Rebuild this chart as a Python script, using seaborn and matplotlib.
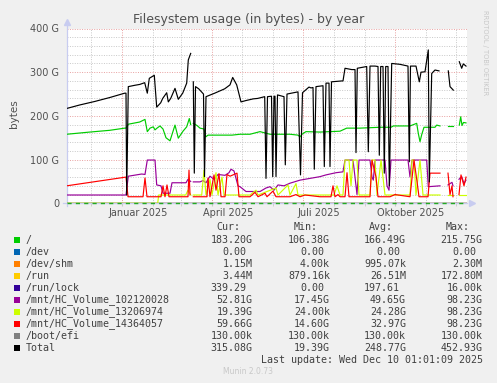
import numpy as np
import pandas as pd
import matplotlib
matplotlib.use("Agg")
import matplotlib.pyplot as plt
import seaborn as sns
from matplotlib.ticker import FixedLocator, NullFormatter
from matplotlib.patches import Rectangle

nan = np.nan

# ---------------- data (x = days relative to 1 Jan 2025, y = GB) ----------------
root_day = [-55, -32, -12, 3, 4.3, 6.6, 18, 23.3, 25.6, 28.3, 31.6, 33.3, 35.3, 38.3, 41.3, 44.3,
            48.3, 53.3, 56.6, 61.3, 65, 67.6, 69, 70, 71.6, 75.3, 78.3, 82.3, 84, 86.3, 98.3, 110.3,
            118.3, 128.3, 138.3, 148.3, 168.3, 176.3, 178.3, 180.3, 184.3, 198.3, 218.3, 225, 238.3,
            258.3, 269.3, 271.6, 288.3, 295, 296.6, 298.3, 300, 302.3, 313.3, 315, 318.3, 322,
            326.6, 331.6, 335, 337.6, 339, 340.3, 341.8, 344.3]
root_val = [158, 163, 167, 172, 172, 181, 186, 192, 164, 172, 175, 168, 172, 177, 170, 150,
            143, 179, 149, 165, 175, 194, 180, nan, 183, 178, 172, 170, 152, 156, 156, 156,
            158, 158, 164, 158, 158, 156, 152, 158, 164, 163, 165, 172, 172,
            174, 174, 177, 177, 183, 160, 141, 157, 174, 174, 179, 177, nan,
            177, 177, nan, 179, 198, 178, 185, 184]

total_day = [-55, -42, -27, -12, 3, 4.3, 5, 6.6, 13, 18, 23, 25.6, 27.6, 32.6, 35, 39, 41, 45, 46.6,
             49, 53.3, 56.6, 61, 65, 66.6, 69, 70, 71.6, 72.6, 73.8, 77, 81.8, 82.8, 84.3, 93, 103,
             108.3, 111, 115, 119.3, 124, 131.6, 136, 143, 144.3, 145.8, 149.8, 151, 152.3, 153.3,
             154.3, 155.8, 162.3, 163.6, 165.3, 176.3, 178.8, 180.8, 184.3, 187.3, 189.3, 191.3,
             192.6, 194.3, 201.3, 202.6, 204.3, 207.3, 208.3, 209.8, 220, 221.3, 223.3, 230, 233.3,
             234.3, 235.6, 245, 246.6, 248.3, 253.3, 256.3, 257.6, 259, 261.3, 262.6, 264, 266.3,
             267.6, 270, 278.3, 286.3, 287.6, 288.8, 294.3, 297.6, 299.3, 303.3, 306.6, 307.6, 310,
             313.3, 317.3, 318, 326.6, 328.3, 331.6, 332, 337.6, 340, 341.6, 344.3]
total_val = [217, 225, 233, 242, 252, 252, 19, 267, 270, 272, 276, 252, 286, 293, 220, 230, 240, 253, 232,
             240, 263, 238, 252, 275, 328, 343, nan, 278, 69, 267, 262, 250, 61, 244, 252, 262,
             271, 288, 271, 232, 235, 239, 240, 244, 57, 244, 245, 61, 245, 245,
             61, 248, 244, 88, 250, 255, 65, 253, 260, 266, 264, 265,
             78, 267, 269, 84, 275, 275, 84, 278, 280, 280, 309, 306, 306,
             116, 309, 313, 118, 314, 314, 313, 110, 313, 313, 69, 313, 313,
             40, 320, 318, 314, 95, 314, 314, 278, 300, 301, 351, 49, 297,
             305, 303, nan, 303, 267, 259, nan, 324, 309, 319, 314]

vol1_day = [-55, 4.3, 6.6, 20, 23.3, 25.6, 33.3, 35, 39.3, 41.3, 48.3, 50.3, 64.3, 66.3, 69, 70, 71.6,
            78.3, 81.3, 84.3, 88.3, 92.3, 96.3, 103.3, 107.3, 109.3, 112.3, 116.3, 118.3, 124.3, 138.3,
            144.3, 148.3, 152.3, 156.3, 162.3, 168.3, 178.3, 188.3, 198.3, 204.3, 214.3, 221.3, 223.3,
            231.3, 233.3, 235.3, 237.3, 248.3, 250.3, 251.6, 253.3, 263.3, 265.3, 267.3, 269.3, 286.3,
            288.3, 290.3, 305, 306.6, 318.3, 319, 326.3, 330.3, 331.3, 332, 337.3, 340, 342.3, 344.3]
vol1_val = [19, 19, 62, 67, 66, 99, 99, 42, 40, 23, 23, 47, 47, 55, 50, nan, 49,
            49, 52, 47, 62, 55, 66, 64, 70, 78, 74, 40, 38, 27, 27,
            35, 38, 30, 42, 40, 46, 53, 57, 61, 65, 70, 72, 99,
            99, 60, 20, 99, 99, 60, 53, 99, 99, 40, 30, 99, 99,
            60, 99, 99, 38, 40, nan, 42, 48, 40, nan, 55, 61, 45, 53]

vol2_day = [-55, 36, 37, 64, 66.3, 69, 70, 71.6, 80, 82.3, 84.3, 88.3, 90.3, 94.3, 96.3, 100.3, 102.3,
            124.3, 128.3, 134.3, 136.3, 154.3, 156.3, 166.3, 168.3, 174.3, 176.3, 212.3, 215.3, 218.3,
            221.3, 223.3, 227.3, 229.3, 231.3, 235.3, 237.3, 248.3, 250.3, 253.3, 255.3, 259.3, 263.3,
            288.3, 290.3, 292.3, 294.3, 298.3, 301.3, 318.3, 319, 326.3, 331.3, 332, 337.3, 344.3]
vol2_val = [0, 0, 19, 19, 30, 19, nan, 19, 19, 76, 19, 55, 19, 70, 19, 60, 19,
            19, 19, 30, 19, 35, 19, 42, 19, 45, 19, 19, 40, 19,
            19, 99, 99, 40, 99, 99, 19, 19, 99, 99, 19, 99, 19,
            19, 99, 99, 19, 99, 19, 19, nan, 19, 19, nan, 19, 19]

vol3_day = [-55, 4.3, 6.3, 21.3, 23.3, 25.3, 39.3, 41.3, 43.3, 45.3, 47.3, 66.3, 67.3, 68.3, 70, 71.6,
            85.3, 86.3, 88.3, 92.3, 94.3, 97.3, 99.3, 103.3, 105.3, 108.3, 115.3, 117.3, 128.3, 133.3,
            136.3, 143.3, 145.3, 151.3, 154.3, 168.3, 174.3, 178.3, 183.3, 198.3, 209.3, 211.3, 213.3,
            216.3, 218.3, 223.3, 225.3, 227.3, 248.3, 250.3, 254.3, 256.3, 268.3, 273.3, 288.3, 292.3,
            295.3, 297.3, 306.3, 308.3, 318.3, 319, 326.3, 328.3, 330.3, 331.3, 332, 337.3, 339.3,
            342.3, 344.3]
vol3_val = [40, 60, 15, 15, 58, 15, 15, 40, 15, 42, 15, 15, 76, 20, nan, 15,
            15, 58, 15, 65, 30, 68, 15, 15, 66, 62, 69, 15, 15, 25,
            15, 23, 15, 28, 15, 15, 20, 15, 19, 15, 15, 40, 15,
            20, 15, 15, 70, 15, 15, 99, 60, 15, 15, 20, 15, 99,
            50, 15, 15, 69, 69, nan, 69, 20, 40, 15, nan, 20, 65,
            40, 60]

small_day = [-55, 344.3]
dev_val = [0.0, 0.0]
shm_val = [0.001, 0.001]
run_val = [0.003, 0.003]
lock_val = [0.0, 0.0]
boot_val = [0.00013, 0.00013]

legend_labels = ['/', '/dev', '/dev/shm', '/run', '/run/lock', '/mnt/HC_Volume_102120028',
                 '/mnt/HC_Volume_13206974', '/mnt/HC_Volume_14364057', '/boot/efi', 'Total']
legend_colors = ['#00CC00', '#0066B3', '#FF8000', '#FFCC00', '#330099', '#990099',
                 '#CCFF00', '#FF0000', '#808080', '#000000']
cur_vals = ['183.20G', '0.00', '1.15M', '3.44M', '339.29', '52.81G', '19.39G', '59.66G', '130.00k', '315.08G']
min_vals = ['106.38G', '0.00', '4.00k', '879.16k', '0.00', '17.45G', '24.00k', '14.60G', '130.00k', '19.39G']
avg_vals = ['166.49G', '0.00', '995.07k', '26.51M', '197.61', '49.65G', '24.28G', '32.97G', '130.00k', '248.77G']
max_vals = ['215.75G', '0.00', '2.30M', '172.80M', '16.00k', '98.23G', '98.23G', '98.23G', '130.00k', '452.93G']

y_ticks = [0, 100, 200, 300, 400]
y_tick_labels = ['0', '100 G', '200 G', '300 G', '400 G']
month_major = [0, 90, 181, 273]
month_minor = [-31, 31, 59, 120, 151, 212, 243, 304, 334]
month_labels = ['Januar 2025', 'April 2025', 'Juli 2025', 'Oktober 2025']

# ---------------- figure ----------------
W, H = 497, 383
def fx(px):
    return px / W
def fy(py):
    return 1 - py / H

plt.rcParams['font.family'] = ['DejaVu Sans']
fig = plt.figure(figsize=(W / 100, H / 100), dpi=100, facecolor='#F0F0F0')
ax = fig.add_axes([fx(66.7), fy(203.3), 400 / W, (203.3 - 28.5) / H])
ax.set_facecolor('white')

def draw(days, vals, color, lw=0.85, z=2):
    df = pd.DataFrame({'day': days, 'val': vals})
    df['seg'] = df['val'].isna().cumsum()
    df = df.dropna()
    sns.lineplot(data=df, x='day', y='val', units='seg', estimator=None, sort=False,
                 color=color, lw=lw, ax=ax, legend=False, zorder=z)

draw(root_day, root_val, legend_colors[0])
draw(small_day, dev_val, legend_colors[1])
draw(small_day, shm_val, legend_colors[2])
draw(small_day, run_val, legend_colors[3])
draw(small_day, lock_val, legend_colors[4])
draw(vol1_day, vol1_val, legend_colors[5])
draw(vol2_day, vol2_val, legend_colors[6])
draw(vol3_day, vol3_val, legend_colors[7])
draw(small_day, boot_val, legend_colors[8])
draw(total_day, total_val, legend_colors[9])

ax.axhline(0, color='#22AA22', lw=1.0, dashes=(3, 3), zorder=4, clip_on=False)

ax.set_xlim(-55, 345)
ax.set_ylim(0, 400)
ax.set_xlabel('')
ax.set_ylabel('')

# grid
ax.yaxis.set_major_locator(FixedLocator(y_ticks))
ax.yaxis.set_minor_locator(FixedLocator([v for v in range(20, 400, 20) if v % 100]))
ax.set_yticklabels(y_tick_labels)
ax.xaxis.set_major_locator(FixedLocator(month_major))
ax.xaxis.set_minor_locator(FixedLocator(month_minor))
ax.xaxis.set_major_formatter(NullFormatter())
ax.grid(which='major', color='#E8A0A0', linestyle=(0, (1, 1.5)), lw=0.7, zorder=0)
ax.grid(which='minor', color='#C8C8C8', linestyle=(0, (1, 1.5)), lw=0.7, zorder=0)
ax.set_axisbelow(True)
ax.tick_params(axis='y', which='both', length=0, pad=5.3, labelsize=7, labelcolor='#505050')
ax.tick_params(axis='x', which='both', length=2.5, color='#C8C8C8', direction='out')
for s in ax.spines.values():
    s.set_visible(False)

# axis lines with arrows
acol = '#C8CCF0'
ax.plot([0, 0], [-0.015, 1.03], color=acol, lw=0.9, transform=ax.transAxes, clip_on=False, zorder=1)
ax.plot([0], [1.035], marker='^', ms=4, color=acol, transform=ax.transAxes, clip_on=False)
ax.plot([-0.01, 1.0], [0, 0], color=acol, lw=0.9, transform=ax.transAxes, clip_on=False, zorder=1)
ax.plot([1.012], [0], marker='>', ms=4, color=acol, transform=ax.transAxes, clip_on=False)

# month labels
for d, lab in zip(month_major, month_labels):
    ax.text(d + 16, -0.054, lab, transform=ax.get_xaxis_transform(), ha='center', va='center',
            fontsize=7, color='#505050')

# titles
fig.text(fx(249), fy(19.3), 'Filesystem usage (in bytes) - by year', ha='center', va='center',
         fontsize=9, color='#505050')
fig.text(fx(14), fy(114), 'bytes', rotation=90, ha='center', va='center', fontsize=7.5, color='#505050')
fig.text(fx(485), fy(53), 'RRDTOOL / TOBI OETIKER', rotation=270, ha='center', va='center',
         fontsize=4.8, color='#C8C8C8')

# legend table
mono = 'DejaVu Sans Mono'
fs = 7.2
tcol = '#404040'
col_right = [252.7, 330, 406, 482.7]
for hdr, xr in zip(['Cur:', 'Min:', 'Avg:', 'Max:'], col_right):
    fig.text(fx(xr - 12.7), fy(227.3), hdr, ha='right', va='center', family=mono, fontsize=fs, color=tcol)

for i, (lab, c) in enumerate(zip(legend_labels, legend_colors)):
    y = 240 + 12 * i
    fig.patches.append(Rectangle((fx(14), fy(y + 3)), 6 / W, 6 / H, transform=fig.transFigure,
                                 facecolor=c, edgecolor='none'))
    fig.text(fx(26), fy(y), lab, ha='left', va='center', family=mono, fontsize=fs, color=tcol)
    for vals, xr in zip([cur_vals, min_vals, avg_vals, max_vals], col_right):
        v = vals[i]
        x = xr if v[-1].isalpha() else xr - 6
        fig.text(fx(x), fy(y), v, ha='right', va='center', family=mono, fontsize=fs, color=tcol)

fig.text(fx(482.7), fy(359.7), 'Last update: Wed Dec 10 01:01:09 2025', ha='right', va='center',
         family=mono, fontsize=fs, color=tcol)
fig.text(fx(248), fy(372), 'Munin 2.0.73', ha='center', va='center', fontsize=5.5, color='#C8C8C8')

fig.savefig('out.png', dpi=100, facecolor=fig.get_facecolor())
